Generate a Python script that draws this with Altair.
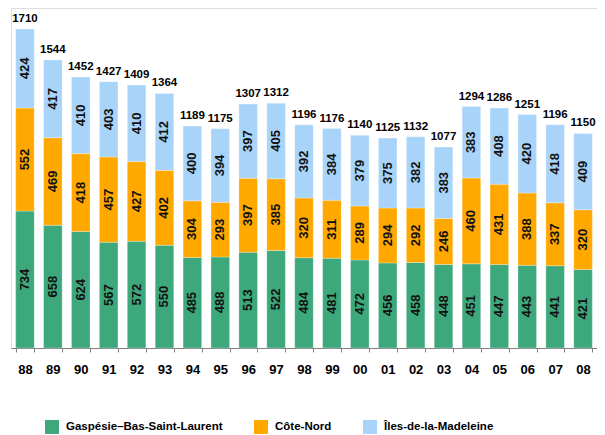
import altair as alt
import pandas as pd

years = ["88", "89", "90", "91", "92", "93", "94", "95", "96", "97", "98",
         "99", "00", "01", "02", "03", "04", "05", "06", "07", "08"]
gaspesie = [734, 658, 624, 567, 572, 550, 485, 488, 513, 522, 484,
            481, 472, 456, 458, 448, 451, 447, 443, 441, 421]
cote_nord = [552, 469, 418, 457, 427, 402, 304, 293, 397, 385, 320,
             311, 289, 294, 292, 246, 460, 431, 388, 337, 320]
iles = [424, 417, 410, 403, 410, 412, 400, 394, 397, 405, 392,
        384, 379, 375, 382, 383, 383, 408, 420, 418, 409]
totals = [1710, 1544, 1452, 1427, 1409, 1364, 1189, 1175, 1307, 1312, 1196,
          1176, 1140, 1125, 1132, 1077, 1294, 1286, 1251, 1196, 1150]

series = ["Gaspésie–Bas-Saint-Laurent", "Côte-Nord", "Îles-de-la-Madeleine"]
colors = ["#3da87b", "#ffa800", "#a9d4fa"]

rows = []
for i, y in enumerate(years):
    start = 0
    for k, vals in enumerate([gaspesie, cote_nord, iles]):
        v = vals[i]
        rows.append({"year": y, "series": series[k], "order": k, "value": v,
                     "y0": start, "y1": start + v, "mid": start + v / 2})
        start += v
seg = pd.DataFrame(rows)
tot = pd.DataFrame({"year": years, "total": totals})

FONT = "Liberation Sans"
xscale = alt.Scale(paddingInner=0.335, paddingOuter=0.1675)
xenc = alt.X("year:N", sort=years, scale=xscale,
             axis=alt.Axis(title=None, labelAngle=0, labelFont=FONT, labelFontSize=13,
                           labelFontWeight="bold", labelColor="#000", tickBand="extent",
                           tickSize=4, tickColor="#808080", domainColor="#808080",
                           labelPadding=11))
yscale = alt.Scale(domain=[0, 1822], nice=False)

bars = alt.Chart(seg).mark_bar(stroke="white", strokeOpacity=0.35, strokeWidth=0.8).encode(
    x=xenc,
    y=alt.Y("y0:Q", scale=yscale, axis=None),
    y2="y1:Q",
    color=alt.Color("series:N", sort=series,
                    scale=alt.Scale(domain=series, range=colors),
                    legend=alt.Legend(title=None, orient="none", direction="horizontal",
                                      legendX=34, legendY=412, symbolType="square",
                                      symbolSize=196, symbolStrokeWidth=0,
                                      labelFont=FONT, labelFontSize=11.5,
                                      labelFontWeight="bold", labelColor="#000",
                                      labelOffset=7, columnPadding=31, padding=0,
                                      labelLimit=400, symbolOpacity=1)),
)

seg_text = alt.Chart(seg).mark_text(angle=270, font=FONT, fontSize=13, fontWeight="bold",
                                    color="#111", align="center", baseline="middle").encode(
    x=alt.X("year:N", sort=years),
    y=alt.Y("mid:Q", scale=yscale),
    text="value:Q",
)

tot_text = alt.Chart(tot).mark_text(font=FONT, fontSize=11.5, fontWeight="bold",
                                    color="#000", baseline="alphabetic", dy=-7).encode(
    x=alt.X("year:N", sort=years),
    y=alt.Y("total:Q", scale=yscale),
    text="total:Q",
)

chart = alt.layer(bars, seg_text, tot_text).properties(
    width=586, height=340,
    padding={"left": 3, "top": 0, "right": 0, "bottom": 100},
    autosize=alt.AutoSizeParams(type="none"),
).configure_view(stroke=None).configure(background="white")

chart.save("out.html", embed_options={"renderer": "svg", "actions": False})
